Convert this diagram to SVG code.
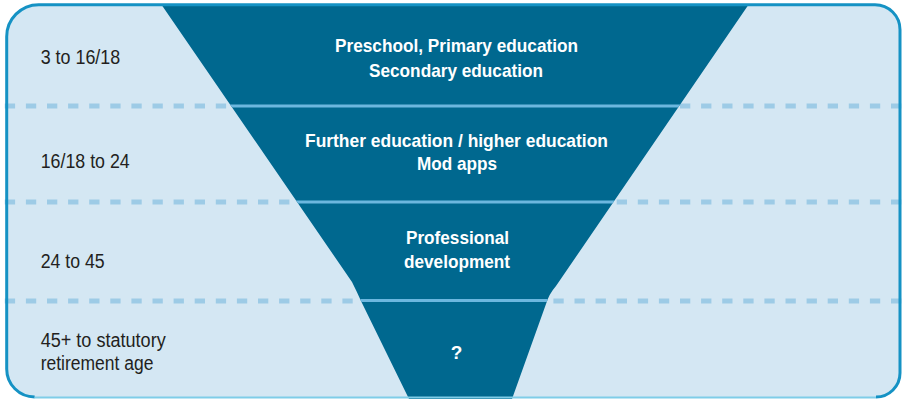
<svg xmlns="http://www.w3.org/2000/svg" width="902" height="399" viewBox="0 0 902 399">
  <style>
    .lbl { font-family: "Liberation Sans", Arial, sans-serif; font-size: 20px; fill: #231f20; }
    .tier { font-family: "Liberation Sans", Arial, sans-serif; font-size: 19px; font-weight: bold; fill: #ffffff; text-anchor: middle; }
    .dash { stroke: #9dcbe6; stroke-width: 5; stroke-dasharray: 10.3 10.8; fill: none; }
    .solid { stroke: #6cb7df; stroke-width: 3; fill: none; }
  </style>
  <defs>
    <clipPath id="funnelClip">
      <path d="M 161 4 L 352 282 Q 357 292 361 301 L 409 399 L 512 399 L 546 304 Q 549 294 556 286 L 749 4 Z"/>
    </clipPath>
  </defs>

  <!-- background panel -->
  <path d="M 6.7 37 A 32 32 0 0 1 38.7 4.7 L 875 4.7 A 25 25 0 0 1 900 29.7 L 900 373 A 24 24 0 0 1 876 397 L 34.7 397 A 28 28 0 0 1 6.7 369 Z" fill="#d4e7f3"/>

  <!-- dashed row separators -->
  <g id="separators">
    <line class="dash" x1="4.8" y1="106" x2="902" y2="106"/>
    <line class="dash" x1="4.8" y1="202" x2="902" y2="202"/>
    <line class="dash" x1="4.8" y1="301" x2="902" y2="301"/>
  </g>

  <!-- funnel -->
  <g id="funnel">
    <path d="M 161 4 L 352 282 Q 357 292 361 301 L 409 399 L 512 399 L 546 304 Q 549 294 556 286 L 749 4 Z" fill="#00688f"/>
    <g clip-path="url(#funnelClip)">
      <line class="solid" x1="0" y1="106" x2="902" y2="106"/>
      <line class="solid" x1="0" y1="202" x2="902" y2="202"/>
      <line class="solid" x1="0" y1="300.5" x2="902" y2="300.5"/>
    </g>
  </g>

  <!-- panel border -->
  <g id="border">
    <path d="M 34.7 397 A 28 28 0 0 1 6.7 369 L 6.7 37 A 32 32 0 0 1 38.7 4.7 L 875 4.7 A 25 25 0 0 1 900 29.7 L 900 373 A 24 24 0 0 1 876 397" fill="none" stroke="#1592c4" stroke-width="3"/>
    <line x1="34.7" y1="397.5" x2="876" y2="397.5" stroke="#7fcde8" stroke-width="2"/>
  </g>

  <g id="tier1">
    <text class="lbl" x="40.7" y="64" textLength="79.5" lengthAdjust="spacingAndGlyphs">3 to 16/18</text>
    <text class="tier" x="456.5" y="52.3" textLength="243" lengthAdjust="spacingAndGlyphs">Preschool, Primary education</text>
    <text class="tier" x="456" y="76.7" textLength="174" lengthAdjust="spacingAndGlyphs">Secondary education</text>
  </g>
  <g id="tier2">
    <text class="lbl" x="40.7" y="168" textLength="89" lengthAdjust="spacingAndGlyphs">16/18 to 24</text>
    <text class="tier" x="456.5" y="146.7" textLength="303" lengthAdjust="spacingAndGlyphs">Further education / higher education</text>
    <text class="tier" x="457" y="170" textLength="80" lengthAdjust="spacingAndGlyphs">Mod apps</text>
  </g>
  <g id="tier3">
    <text class="lbl" x="40.7" y="268" textLength="64" lengthAdjust="spacingAndGlyphs">24 to 45</text>
    <text class="tier" x="457.5" y="244" textLength="103" lengthAdjust="spacingAndGlyphs">Professional</text>
    <text class="tier" x="457" y="268" textLength="106" lengthAdjust="spacingAndGlyphs">development</text>
  </g>
  <g id="tier4">
    <text class="lbl" x="40.7" y="347.3" textLength="125" lengthAdjust="spacingAndGlyphs">45+ to statutory</text>
    <text class="lbl" x="40.7" y="370" textLength="112.7" lengthAdjust="spacingAndGlyphs">retirement age</text>
    <text class="tier" x="456.5" y="359" font-size="20">?</text>
  </g>
</svg>
